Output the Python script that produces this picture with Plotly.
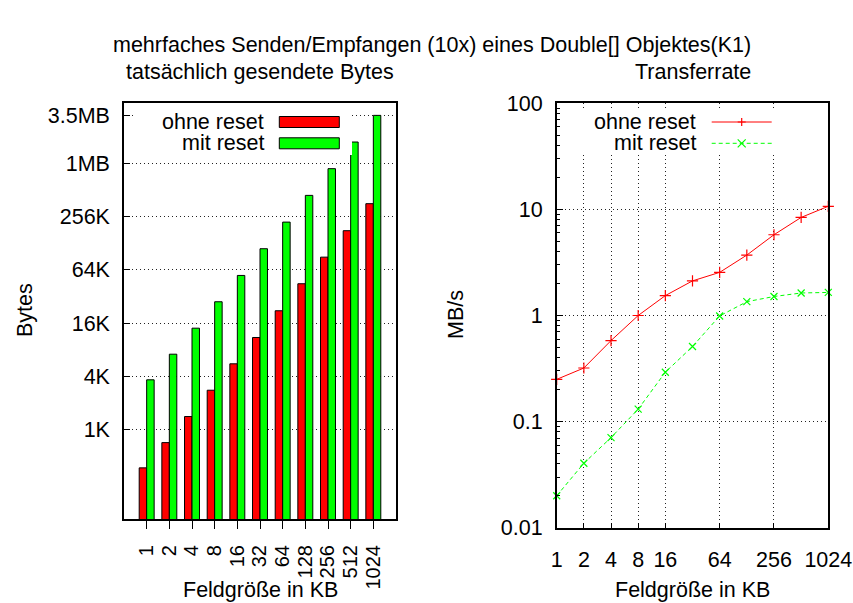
import plotly.graph_objects as go
import numpy as np

# ---------------- data ----------------
sizes_kb = ["1", "2", "4", "8", "16", "32", "64", "128", "256", "512", "1024"]
sizes_num = [1, 2, 4, 8, 16, 32, 64, 128, 256, 512, 1024]

bytes_ohne_reset = [381, 735, 1448, 2870, 5707, 11316, 22676, 45790, 91450, 181950, 367400]
bytes_mit_reset = [3763, 7327, 14415, 28663, 56820, 113870, 227530, 455900, 913400, 1825800, 3652600]

rate_ohne_reset = [0.25, 0.32, 0.58, 1.0, 1.54, 2.12, 2.55, 3.71, 5.77, 8.4, 10.7]
rate_mit_reset = [0.02, 0.0405, 0.0707, 0.131, 0.292, 0.51, 0.99, 1.35, 1.51, 1.63, 1.65]

bytes_tickvals = [1024, 4096, 16384, 65536, 262144, 1048576, 3670016]
bytes_ticktext = ["1K", "4K", "16K", "64K", "256K", "1MB", "3.5MB"]
rate_x_tickvals = [1, 2, 4, 8, 16, 64, 256, 1024]

title_main = "mehrfaches Senden/Empfangen (10x) eines Double[] Objektes(K1)"
title_left = "tatsächlich gesendete Bytes"
title_right = "Transferrate"
xlabel = "Feldgröße in KB"
ylabel_left = "Bytes"
ylabel_right = "MB/s"
series_names = ["ohne reset", "mit reset"]

RED = "#ff0000"
GREEN = "#00ff00"
FONT = "Liberation Sans, Arial, sans-serif"
FS = 21.5

W, H = 853, 603


def px(x):
    return x / W


def py(y):
    return 1 - y / H


fig = go.Figure()

fig.add_trace(go.Bar(x=sizes_kb, y=bytes_ohne_reset, name=series_names[0],
                     marker=dict(color=RED, line=dict(color="black", width=1)),
                     xaxis="x", yaxis="y", showlegend=False))
fig.add_trace(go.Bar(x=sizes_kb, y=bytes_mit_reset, name=series_names[1],
                     marker=dict(color=GREEN, line=dict(color="black", width=1)),
                     xaxis="x", yaxis="y", showlegend=False))

fig.add_trace(go.Scatter(x=sizes_num, y=rate_ohne_reset, name=series_names[0],
                         mode="lines+markers",
                         line=dict(color=RED, width=1),
                         marker=dict(symbol="cross-thin", size=8, color=RED,
                                     line=dict(color=RED, width=1.2)),
                         xaxis="x2", yaxis="y2", showlegend=False, cliponaxis=False))
fig.add_trace(go.Scatter(x=sizes_num, y=rate_mit_reset, name=series_names[1],
                         mode="lines+markers",
                         line=dict(color=GREEN, width=1, dash="4px,3px"),
                         marker=dict(symbol="x-thin", size=7, color=GREEN,
                                     line=dict(color=GREEN, width=1.2)),
                         xaxis="x2", yaxis="y2", showlegend=False, cliponaxis=False))

axis_common = dict(showline=True, linecolor="black", linewidth=1.5, mirror=True,
                   tickcolor="black", tickwidth=1.2,
                   zeroline=False, automargin=False)
tf = dict(family=FONT, size=FS, color="black")

grid = dict(showgrid=True, gridcolor="#222222", gridwidth=1, griddash="1px,3px")

L0, L1 = px(124), px(396)
R0, R1 = px(556.7), px(828.3)

fig.update_layout(
    width=W, height=H,
    margin=dict(l=0, r=0, t=0, b=0),
    paper_bgcolor="white", plot_bgcolor="white",
    barmode="group", bargap=0.34, bargroupgap=0,
    showlegend=False,
    font=dict(family=FONT, size=FS, color="black"),
    xaxis=dict(domain=[L0, L1], anchor="y", type="category", range=[-1, 11],
               tickmode="linear", tick0=0, dtick=1,
               ticks="outside", ticklen=8, tickangle=-90, showgrid=False,
               ticklabelstandoff=8, tickfont=dict(family=FONT, size=20, color="black"),
               **axis_common),
    yaxis=dict(domain=[py(519.3), py(103.3)], anchor="x", type="log",
               range=[2, np.log10(5e6)], tickvals=bytes_tickvals, ticktext=bytes_ticktext,
               ticks="inside", ticklen=6, ticklabelstandoff=8, tickfont=tf,
               **grid, **axis_common),
    xaxis2=dict(domain=[R0, R1], anchor="y2", type="log", range=[0, np.log10(1024)],
                tickvals=rate_x_tickvals, ticktext=[str(v) for v in rate_x_tickvals],
                ticks="inside", ticklen=5, ticklabelstandoff=12, tickfont=tf,
                **grid, **axis_common),
    yaxis2=dict(domain=[py(527.7), py(103.3)], anchor="x2", type="log", range=[-2, 2],
                tickmode="linear", tick0=0, dtick=1,
                ticks="inside", ticklen=7, ticklabelstandoff=8, tickfont=tf,
                minor=dict(ticks="inside", ticklen=4, tickcolor="black", dtick="D1",
                           showgrid=False),
                **grid, **axis_common),
)

shapes = []
annotations = []

# titles
annotations.append(dict(text=title_main, x=px(432), y=py(45), xref="paper", yref="paper",
                        showarrow=False, xanchor="center", yanchor="middle"))
annotations.append(dict(text=title_left, x=px(260), y=py(72), xref="paper", yref="paper",
                        showarrow=False, xanchor="center", yanchor="middle"))
annotations.append(dict(text=title_right, x=px(692.5), y=py(72), xref="paper", yref="paper",
                        showarrow=False, xanchor="center", yanchor="middle"))
# axis titles
annotations.append(dict(text=xlabel, x=px(260), y=py(590), xref="paper", yref="paper",
                        showarrow=False, xanchor="center", yanchor="middle"))
annotations.append(dict(text=xlabel, x=px(692.5), y=py(590), xref="paper", yref="paper",
                        showarrow=False, xanchor="center", yanchor="middle"))
annotations.append(dict(text=ylabel_left, x=px(25), y=py(310), xref="paper", yref="paper",
                        showarrow=False, xanchor="center", yanchor="middle", textangle=-90))
annotations.append(dict(text=ylabel_right, x=px(456), y=py(315), xref="paper", yref="paper",
                        showarrow=False, xanchor="center", yanchor="middle", textangle=-90))

# left legend (gnuplot style: text right-justified, sample on the right)
shapes.append(dict(type="rect", xref="paper", yref="paper", layer="above",
                   x0=px(136), x1=px(352), y0=py(104.5), y1=py(155),
                   fillcolor="white", line=dict(width=0)))
leg_rows = [122.0, 143.3]
for i, (name, col) in enumerate(zip(series_names, [RED, GREEN])):
    yc = leg_rows[i]
    shapes.append(dict(type="rect", xref="paper", yref="paper", layer="above",
                       x0=px(279.3), x1=px(339.3), y0=py(yc - 5.5), y1=py(yc + 5.5),
                       fillcolor=col, line=dict(color="black", width=1)))
    annotations.append(dict(text=name, x=px(266), y=py(yc), xref="paper", yref="paper",
                            showarrow=False, xanchor="right", yanchor="middle"))

# right legend
shapes.append(dict(type="rect", xref="paper", yref="paper", layer="above",
                   x0=px(562), x1=px(800), y0=py(109), y1=py(155),
                   fillcolor="white", line=dict(width=0)))
for i, (name, col) in enumerate(zip(series_names, [RED, GREEN])):
    yc = leg_rows[i]
    dash = "solid" if i == 0 else "4px,3px"
    shapes.append(dict(type="line", xref="paper", yref="paper", layer="above",
                       x0=px(711.7), x1=px(771.7), y0=py(yc), y1=py(yc),
                       line=dict(color=col, width=1, dash=dash)))
    mx = 741.7
    s = 4
    if i == 0:
        path = (f"M{px(mx - s)},{py(yc)} L{px(mx + s)},{py(yc)} "
                f"M{px(mx)},{py(yc - s)} L{px(mx)},{py(yc + s)}")
    else:
        path = (f"M{px(mx - s)},{py(yc - s)} L{px(mx + s)},{py(yc + s)} "
                f"M{px(mx - s)},{py(yc + s)} L{px(mx + s)},{py(yc - s)}")
    shapes.append(dict(type="path", xref="paper", yref="paper", layer="above",
                       path=path, line=dict(color=col, width=1.2)))
    annotations.append(dict(text=name, x=px(698.3), y=py(yc), xref="paper", yref="paper",
                            showarrow=False, xanchor="right", yanchor="middle"))

fig.update_layout(shapes=shapes, annotations=annotations)

fig.write_html(
    "out.html",
    config={"displayModeBar": False},
    post_script="document.body.style.margin='0';document.body.style.padding='0';"
                "document.documentElement.style.margin='0';",
)
